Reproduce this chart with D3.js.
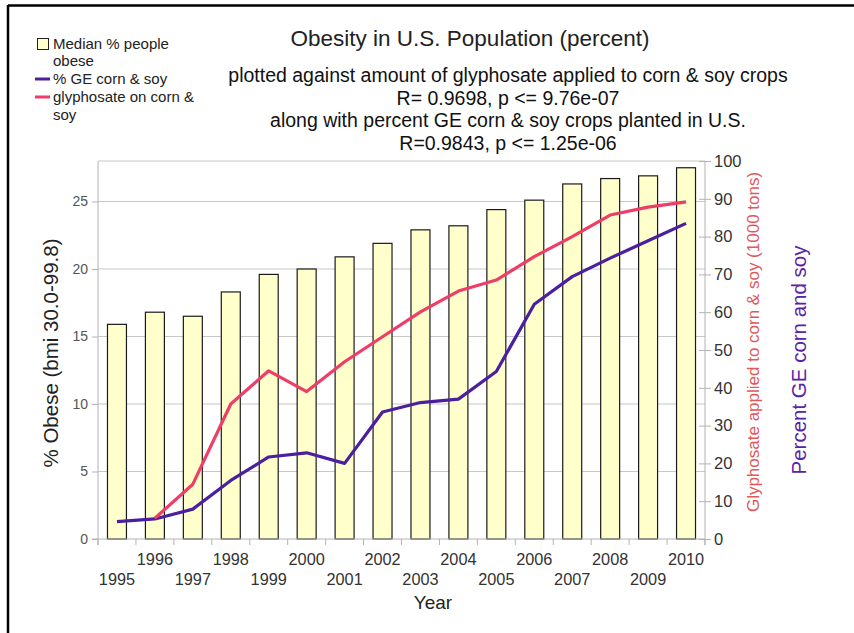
<!DOCTYPE html>
<html><head><meta charset="utf-8">
<script src="https://cdn.jsdelivr.net/npm/d3@7"></script>
<style>body{margin:0;background:#fff}svg{display:block;font-family:"Liberation Sans",Arial,sans-serif}</style>
</head><body><svg id="c" width="854" height="633"></svg>
<script>
const years = [1995,1996,1997,1998,1999,2000,2001,2002,2003,2004,2005,2006,2007,2008,2009,2010];
const obese = [15.9,16.8,16.5,18.3,19.6,20.0,20.9,21.9,22.9,23.2,24.4,25.1,26.3,26.7,26.9,27.5];
const geCornSoy = [4.6,5.3,7.9,15.5,21.7,22.8,20.0,33.6,36.1,37.0,44.3,62.1,69.4,74.3,78.9,83.5];
const glyphosate = [null,5.5,14.5,35.7,44.5,39.0,46.9,53.5,60.1,65.6,68.5,74.7,80.0,85.7,87.8,89.2];
const leftTicks = [0,5,10,15,20,25];
const rightTicks = [0,10,20,30,40,50,60,70,80,90,100];

const svg = d3.select("#c");
const L = 98, R = 705, T = 161, B = 539;
const purple = "#4b1f9e", pink = "#ee3e68";

// frame (top & left edges)
svg.append("line").attr("x1",8).attr("x2",854).attr("y1",5.5).attr("y2",5.5).attr("stroke","#000").attr("stroke-width",2.5);
svg.append("line").attr("x1",8).attr("x2",8).attr("y1",5).attr("y2",633).attr("stroke","#000").attr("stroke-width",2.5);

const x = d3.scaleBand().domain(years).range([L,R]).paddingInner(0.5).paddingOuter(0.25);
const yL = d3.scaleLinear().domain([0,28]).range([B,T]);
const yR = d3.scaleLinear().domain([0,100]).range([B,T]);
const cx = d => x(d) + x.bandwidth()/2;

// gridlines
svg.append("g").selectAll("line").data(leftTicks.slice(1)).join("line")
  .attr("x1",L).attr("x2",R).attr("y1",d=>yL(d)).attr("y2",d=>yL(d))
  .attr("stroke","#c8c8c8").attr("stroke-width",1.2);
svg.append("line").attr("x1",L).attr("x2",R).attr("y1",T).attr("y2",T).attr("stroke","#c8c8c8").attr("stroke-width",1.2);

// bars
svg.append("g").selectAll("rect").data(years).join("rect")
  .attr("x",d=>x(d)).attr("width",x.bandwidth())
  .attr("y",(d,i)=>yL(obese[i])).attr("height",(d,i)=>B-yL(obese[i]))
  .attr("fill","#ffffcc").attr("stroke","#1a1a1a").attr("stroke-width",1.2);

// lines
const line = d3.line().defined(d=>d[1]!=null).x(d=>cx(d[0])).y(d=>yR(d[1]));
svg.append("path").datum(years.map((y,i)=>[y,geCornSoy[i]])).attr("d",line)
  .attr("fill","none").attr("stroke",purple).attr("stroke-width",3.2).attr("stroke-linejoin","round");
svg.append("path").datum(years.map((y,i)=>[y,glyphosate[i]])).attr("d",line)
  .attr("fill","none").attr("stroke",pink).attr("stroke-width",3.2).attr("stroke-linejoin","round");

// left axis
const ax = svg.append("g").attr("transform",`translate(${L},0)`).call(d3.axisLeft(yL).tickValues(leftTicks).tickSize(6).tickPadding(4));
ax.select(".domain").attr("stroke","#b3b3b3").attr("d",`M-0,${B+6}V${T}`);
ax.selectAll(".tick line").attr("stroke","#b3b3b3");
ax.selectAll(".tick text").attr("fill","#555").style("font-size","14px").style("font-family","Liberation Sans, Arial");

// right axis
const ar = svg.append("g").attr("transform",`translate(${R},0)`).call(d3.axisRight(yR).tickValues(rightTicks).tickSize(6).tickPadding(3));
ar.select(".domain").attr("stroke","#b3b3b3").attr("d",`M0,${B+6}V${T}`);
ar.selectAll(".tick line").attr("stroke","#b3b3b3").attr("x1",-6);
ar.selectAll(".tick text").attr("fill","#333").style("font-size","16.5px").style("font-family","Liberation Sans, Arial");

// bottom axis
svg.append("line").attr("x1",L-6).attr("x2",R).attr("y1",B).attr("y2",B).attr("stroke","#b3b3b3");
const bounds = years.map(d=>x(d)-x.step()*0.25).concat([R]);
svg.append("g").selectAll("line").data(bounds).join("line")
  .attr("x1",d=>d).attr("x2",d=>d).attr("y1",B).attr("y2",B+6).attr("stroke","#b3b3b3");
svg.append("g").selectAll("text").data(years).join("text")
  .attr("x",d=>cx(d)).attr("y",(d,i)=> i%2 ? B+26 : B+46)
  .attr("text-anchor","middle").attr("fill","#333").style("font-size","16.3px").text(d=>d);

// titles
svg.append("text").attr("x",470).attr("y",46).attr("text-anchor","middle").attr("fill","#222").style("font-size","22.5px").text("Obesity in U.S. Population (percent)");
const sub = ["plotted against amount of glyphosate applied to corn & soy crops","R= 0.9698, p <= 9.76e-07","along with percent GE corn & soy crops planted in U.S.","R=0.9843, p <= 1.25e-06"];
svg.append("g").selectAll("text").data(sub).join("text")
  .attr("x",508).attr("y",(d,i)=>82+i*22.5).attr("text-anchor","middle").attr("fill","#111").style("font-size","19.5px").text(d=>d);

svg.append("text").attr("transform","translate(58,353) rotate(-90)").attr("text-anchor","middle").attr("fill","#222").style("font-size","20.5px").text("% Obese (bmi 30.0-99.8)");
svg.append("text").attr("transform","translate(759,342) rotate(-90)").attr("text-anchor","middle").attr("fill","#e05858").style("font-size","17px").text("Glyphosate applied to corn & soy (1000 tons)");
svg.append("text").attr("transform","translate(806,360) rotate(-90)").attr("text-anchor","middle").attr("fill","#5a22a6").style("font-size","20.5px").text("Percent GE corn and soy");
svg.append("text").attr("x",433).attr("y",609).attr("text-anchor","middle").attr("fill","#222").style("font-size","19px").text("Year");

// legend
const lg = svg.append("g").style("font-size","15px").attr("fill","#222");
lg.append("rect").attr("x",37.5).attr("y",38.5).attr("width",11).attr("height",11).attr("fill","#ffffcc").attr("stroke","#222");
lg.append("text").attr("x",53).attr("y",49).text("Median % people");
lg.append("text").attr("x",53).attr("y",66).text("obese");
lg.append("line").attr("x1",35).attr("x2",50).attr("y1",79).attr("y2",79).attr("stroke",purple).attr("stroke-width",3);
lg.append("text").attr("x",53).attr("y",84).text("% GE corn & soy");
lg.append("line").attr("x1",35).attr("x2",50).attr("y1",97).attr("y2",97).attr("stroke",pink).attr("stroke-width",3);
lg.append("text").attr("x",53).attr("y",102).text("glyphosate on corn &");
lg.append("text").attr("x",53).attr("y",120).text("soy");
</script></body></html>
